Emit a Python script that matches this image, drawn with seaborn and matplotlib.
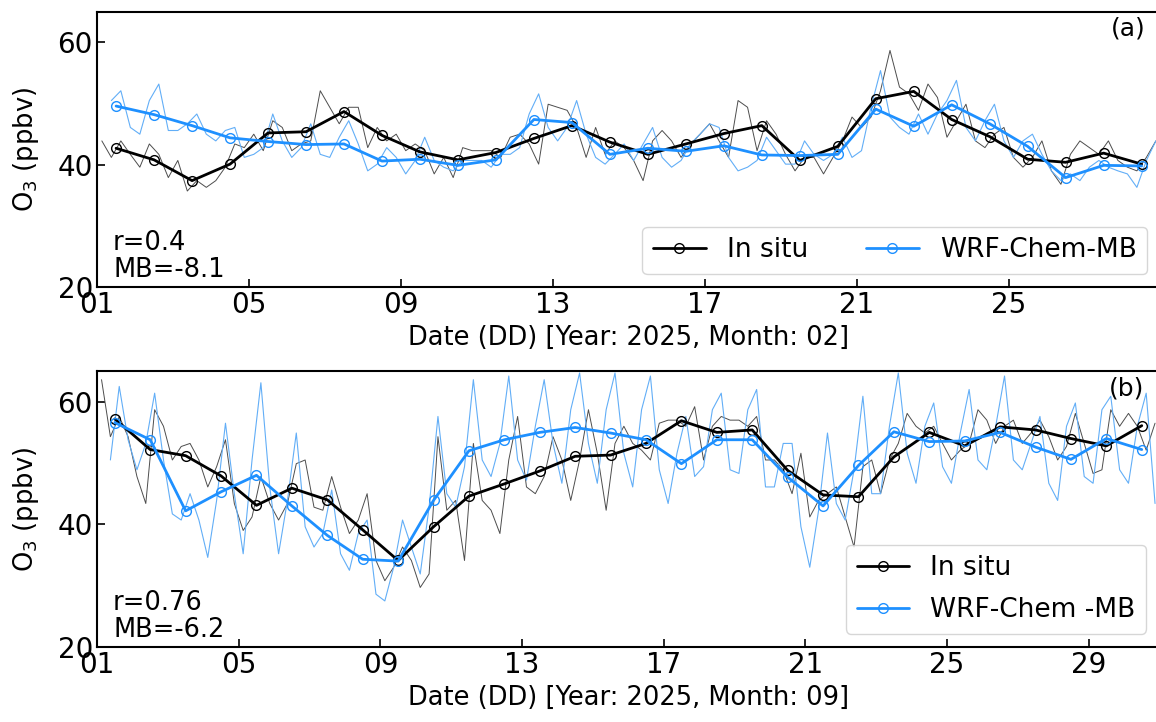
import numpy as np
import pandas as pd
import matplotlib
matplotlib.use("Agg")
import matplotlib.pyplot as plt
import seaborn as sns
from matplotlib.ticker import FixedLocator, FixedFormatter

sns.set_style("ticks")
plt.rcParams['font.family'] = ['DejaVu Sans']
plt.rcParams.update({"text.color": "black", "axes.labelcolor": "black",
                     "xtick.color": "black", "ytick.color": "black",
                     "axes.edgecolor": "black"})

# ---------------- data ----------------
HOURS = [3, 9, 15, 21]   # sample hours of the sub-daily traces

feb_insitu_daily = [42.7, 40.8, 37.4, 40.1, 45.2, 45.4, 48.7, 44.8, 42.1, 40.8,
                    42.0, 44.3, 46.4, 43.7, 41.7, 43.4, 45.1, 46.4, 40.7, 43.0,
                    50.8, 52.0, 47.4, 44.6, 40.9, 40.4, 41.9, 40.1]
feb_model_daily = [49.6, 48.2, 46.4, 44.4, 43.8, 43.3, 43.4, 40.6, 40.9, 39.9,
                   40.8, 47.4, 46.9, 41.7, 42.7, 42.2, 43.1, 41.6, 41.5, 41.7,
                   49.1, 46.3, 49.8, 46.7, 43.0, 37.9, 39.9, 39.8]
sep_insitu_daily = [57.2, 52.2, 51.2, 47.9, 43.1, 45.9, 44.0, 39.1, 34.1, 39.6,
                    44.6, 46.6, 48.7, 51.1, 51.3, 53.2, 56.9, 55.0, 55.4, 48.8,
                    44.8, 44.5, 51.0, 55.0, 52.8, 55.9, 55.4, 54.0, 52.8, 56.1]
sep_model_daily = [56.6, 53.8, 42.2, 45.3, 48.0, 43.0, 38.2, 34.3, 34.0, 43.9,
                   52.0, 53.8, 55.0, 55.8, 54.9, 53.8, 49.9, 53.8, 53.8, 47.7,
                   43.0, 49.6, 55.1, 53.5, 53.6, 55.0, 52.6, 50.6, 54.0, 52.2]

feb_insitu_hourly = [
    43.9, 41.2, 43.9, 41.7,  39.6, 43.4, 41.7, 37.9,  40.7, 35.7, 37.4, 36.3,
    37.4, 39.6, 43.4, 42.8,  45.0, 42.3, 47.2, 46.1,  42.3, 43.4, 43.9, 52.1,
    49.4, 46.7, 49.4, 49.4,  42.8, 46.1, 43.9, 45.0,  42.3, 43.4, 42.3, 38.5,
    41.2, 37.9, 42.8, 42.3,  42.3, 42.3, 41.2, 44.5,  45.0, 43.4, 40.1, 49.9,
    49.4, 48.9, 46.1, 41.2,  46.1, 41.7, 43.9, 42.8,  40.7, 37.4, 43.9, 45.6,
    43.9, 41.2, 43.4, 45.0,  46.7, 43.9, 41.2, 50.5,  49.4, 42.3, 47.2, 45.0,
    41.7, 39.0, 41.2, 41.2,  38.5, 41.2, 43.9, 47.8,  46.1, 47.8, 52.1, 58.7,
    52.7, 51.6, 48.9, 53.2,  51.0, 44.5, 47.2, 49.9,  43.9, 42.8, 45.0, 46.1,
    41.2, 39.6, 41.2, 43.9,  39.0, 36.8, 41.7, 43.9,  42.8, 41.7, 43.9, 40.7,
    39.6, 39.0, 41.2, 43.9]
feb_model_hourly = [
    np.nan, 50.5, 52.1, 46.1,  45.0, 50.5, 53.2, 45.6,  45.6, 46.7, 48.3, 45.0,
    43.9, 45.6, 46.1, 41.2,  41.7, 42.8, 48.3, 43.9,  41.2, 42.8, 46.7, 41.7,
    41.2, 44.5, 47.2, 43.4,  39.0, 40.1, 42.8, 41.2,  38.5, 40.7, 44.5, 40.7,
    39.6, 39.0, 40.7, 40.7,  40.7, 39.6, 41.7, 41.7,  42.8, 48.3, 51.6, 46.1,
    43.9, 46.1, 50.5, 45.0,  41.2, 40.1, 41.7, 43.4,  40.7, 43.4, 46.1, 41.2,
    39.6, 40.7, 43.4, 45.0,  46.7, 46.1, 41.2, 39.0,  39.6, 40.7, 44.5, 42.3,
    40.1, 40.1, 43.9, 41.7,  40.7, 41.7, 44.5, 41.2,  42.3, 49.4, 55.4, 47.8,
    46.1, 45.0, 48.3, 45.0,  48.3, 50.5, 53.8, 46.1,  43.9, 47.2, 49.9, 43.9,
    41.2, 43.9, 45.0, 41.7,  39.0, 37.4, 38.5, 37.4,  39.6, 40.7, 39.6, 39.0,
    38.5, 36.3, 40.7, 43.9]
sep_insitu_hourly = [
    63.6, 54.3, 57.6, 54.3,  47.8, 43.4, 58.7, 56.0,  50.5, 52.7, 53.2, 50.5,
    46.1, 49.4, 53.8, 43.4,  39.0, 41.2, 47.8, 43.4,  40.7, 43.4, 49.9, 50.5,
    42.8, 42.3, 47.8, 42.8,  38.5, 40.7, 45.0, 34.1,  30.8, 33.0, 36.3, 34.1,
    29.7, 31.9, 54.3, 42.3,  43.9, 34.1, 53.2, 43.9,  42.3, 38.5, 50.5, 57.6,
    46.1, 45.0, 47.8, 54.3,  50.5, 43.9, 50.5, 58.7,  51.6, 42.3, 53.2, 56.0,
    53.2, 52.1, 50.5, 56.5,  57.0, 57.0, 56.0, 59.2,  50.5, 56.0, 57.6, 57.0,
    57.0, 56.0, 57.6, 50.5,  50.5, 48.9, 45.0, 51.6,  41.2, 43.9, 45.0, 46.1,
    41.2, 36.3, 49.4, 50.5,  45.0, 50.5, 53.2, 58.1,  56.0, 54.9, 56.0, 53.2,
    50.5, 52.1, 53.2, 58.7,  57.0, 53.2, 56.0, 57.0,  53.2, 54.9, 57.0, 54.3,
    50.5, 52.7, 58.1, 53.2,  48.3, 48.9, 58.7, 56.0,  58.1, 56.0, 52.1, 56.5]
sep_model_hourly = [
    np.nan, 50.5, 62.5, 53.8,  48.9, 53.2, 61.4, 50.5,  41.7, 40.7, 45.0, 40.7,
    34.6, 43.9, 56.5, 45.0,  35.2, 50.5, 63.1, 46.1,  35.2, 43.9, 54.9, 39.6,
    36.3, 38.5, 45.6, 35.2,  32.5, 38.5, 40.7, 28.6,  27.5, 33.0, 40.7, 36.3,
    31.9, 42.8, 57.6, 45.0,  42.8, 49.4, 63.6, 50.5,  47.8, 53.2, 64.2, 50.5,
    47.2, 56.0, 63.6, 53.2,  46.7, 58.7, 64.7, 53.2,  46.7, 58.7, 64.7, 51.6,
    46.1, 58.7, 64.2, 48.9,  43.4, 51.6, 57.6, 47.8,  49.4, 58.7, 61.4, 48.9,
    48.3, 58.7, 62.0, 46.1,  46.1, 53.2, 53.2, 39.6,  33.0, 42.3, 54.9, 43.4,
    40.7, 48.9, 60.9, 45.0,  45.0, 56.0, 64.7, 51.6,  46.7, 56.0, 59.8, 49.4,
    46.7, 54.9, 62.0, 50.5,  48.9, 56.0, 64.2, 50.5,  48.9, 53.2, 57.6, 46.7,
    43.9, 56.0, 59.8, 47.8,  46.7, 58.7, 60.9, 48.9,  46.7, 56.0, 61.4, 43.4]

panels = [
    dict(ndays=28, ins_d=feb_insitu_daily, mod_d=feb_model_daily,
         ins_h=feb_insitu_hourly, mod_h=feb_model_hourly,
         xlabel="Date (DD) [Year: 2025, Month: 02]", stats="r=0.4\nMB=-8.1",
         tag="(a)", model_label="WRF-Chem-MB", ncol=2,
         ticks=[1, 5, 9, 13, 17, 21, 25]),
    dict(ndays=30, ins_d=sep_insitu_daily, mod_d=sep_model_daily,
         ins_h=sep_insitu_hourly, mod_h=sep_model_hourly,
         xlabel="Date (DD) [Year: 2025, Month: 09]", stats="r=0.76\nMB=-6.2",
         tag="(b)", model_label="WRF-Chem -MB", ncol=1,
         ticks=[1, 5, 9, 13, 17, 21, 25, 29]),
]

BLACK = "black"
BLUE = "#1E90FF"

fig = plt.figure(figsize=(11.56, 7.22), dpi=100)
rects = [[0.084, 0.6025, 0.92, 0.381], [0.084, 0.104, 0.919, 0.382]]

for p, rect in zip(panels, rects):
    ax = fig.add_axes(rect)
    n = p["ndays"]
    xh = [d + h / 24 for d in range(1, n + 1) for h in HOURS]
    xd = [d + 0.5 for d in range(1, n + 1)]
    hourly = pd.DataFrame({"x": xh, "ins": p["ins_h"], "mod": p["mod_h"]})
    daily = pd.DataFrame({"x": xd, "ins": p["ins_d"], "mod": p["mod_d"]})

    sns.lineplot(data=hourly, x="x", y="ins", ax=ax, color="0.3", lw=0.7,
                 estimator=None, sort=True)
    sns.lineplot(data=hourly, x="x", y="mod", ax=ax, color="#62aef7", lw=0.8,
                 estimator=None, sort=True)
    sns.lineplot(data=daily, x="x", y="ins", ax=ax, color=BLACK, lw=2.0,
                 marker="o", markersize=7, markerfacecolor="none",
                 markeredgecolor=BLACK, markeredgewidth=1.0,
                 estimator=None, label="In situ")
    sns.lineplot(data=daily, x="x", y="mod", ax=ax, color=BLUE, lw=2.0,
                 marker="o", markersize=7, markerfacecolor="none",
                 markeredgecolor=BLUE, markeredgewidth=1.0,
                 estimator=None, label=p["model_label"])

    ax.set_xlim(1, n + 1)
    ax.set_ylim(20, 65)
    ax.xaxis.set_major_locator(FixedLocator(p["ticks"]))
    ax.xaxis.set_major_formatter(FixedFormatter([f"{t:02d}" for t in p["ticks"]]))
    ax.set_yticks([20, 40, 60])
    ax.tick_params(direction="in", length=6, width=1.2, labelsize=20, pad=3)
    for s in ax.spines.values():
        s.set_linewidth(1.5)
    ax.set_xlabel(p["xlabel"], fontsize=18.5, labelpad=4)
    ax.set_ylabel("O$_3$ (ppbv)", fontsize=18.5, labelpad=12)

    ax.text(0.015, 0.015, p["stats"], transform=ax.transAxes, fontsize=18.5,
            ha="left", va="bottom", linespacing=1.05)
    ax.text(0.986, 0.982, p["tag"], transform=ax.transAxes, fontsize=18,
            ha="right", va="top")
    ax.legend(loc="lower right", ncol=p["ncol"], fontsize=19,
              borderaxespad=0.5, labelspacing=0.6, columnspacing=2.2)

fig.savefig("out.png", dpi=100)
